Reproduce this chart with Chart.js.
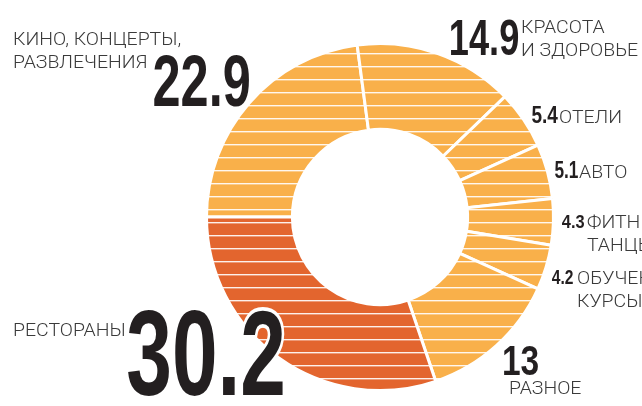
<!DOCTYPE html>
<html>
<head>
<meta charset="utf-8">
<script src="https://cdn.jsdelivr.net/npm/chart.js@4.4.1/dist/chart.umd.min.js"></script>
<style>
  html, body { margin: 0; padding: 0; background: #fff; }
  #c { display: block; }
</style>
</head>
<body>
<canvas id="c" width="642" height="406"></canvas>
<script>
const categories = [
  'КИНО, КОНЦЕРТЫ,\nРАЗВЛЕЧЕНИЯ',
  'КРАСОТА\nИ ЗДОРОВЬЕ',
  'ОТЕЛИ',
  'АВТО',
  'ФИТНЕС,\nТАНЦЫ',
  'ОБУЧЕНИЕ,\nКУРСЫ',
  'РАЗНОЕ',
  'РЕСТОРАНЫ'
];
const shares = [22.9, 14.9, 5.4, 5.1, 4.3, 4.2, 13, 30.2];
const highlight = [false, false, false, false, false, false, false, true];

// where the numbers and captions sit (x, baseline, digit height, digit width)
const numBoxes = [
  { x: 154, y: 106, h: 51, w: 95 },
  { x: 451, y: 55, h: 35, w: 67 },
  { x: 532, y: 123, h: 17, w: 26 },
  { x: 555, y: 178, h: 16.5, w: 23 },
  { x: 562, y: 228, h: 13.5, w: 22 },
  { x: 552, y: 284, h: 14, w: 21 },
  { x: 504, y: 375, h: 30, w: 34 },
  { x: 128, y: 395, h: 85, w: 155 }
];
const textSpots = [
  [{ x: 13, y: 45 }, { x: 13, y: 68 }],
  [{ x: 521, y: 33 }, { x: 521, y: 56 }],
  [{ x: 559, y: 123 }],
  [{ x: 579, y: 178 }],
  [{ x: 587, y: 228 }, { x: 587, y: 251 }],
  [{ x: 577, y: 284 }, { x: 577, y: 307 }],
  [{ x: 509, y: 394 }],
  [{ x: 13, y: 336 }]
];

function stripes(color) {
  const t = document.createElement('canvas');
  t.width = 8;
  t.height = 13;
  const g = t.getContext('2d');
  g.fillStyle = color;
  g.fillRect(0, 0, 8, 13);
  g.fillStyle = 'rgba(255,255,255,0.9)';
  g.fillRect(0, 1, 8, 1);
  g.fillStyle = 'rgba(255,255,255,0.35)';
  g.fillRect(0, 2, 8, 1);
  return g.createPattern(t, 'repeat');
}

const light = stripes('#f9b04a');
const dark = stripes('#e3652e');

const labelsPlugin = {
  id: 'labels',
  afterDraw(chart) {
    const ctx = chart.ctx;
    ctx.save();
    shares.forEach((v, i) => {
      const b = numBoxes[i];
      const txt = String(v);
      ctx.font = 'bold 100px "Liberation Sans Narrow", "Liberation Sans", sans-serif';
      const m = ctx.measureText(txt);
      const mw = m.actualBoundingBoxLeft + m.actualBoundingBoxRight;
      const sx = b.w / mw;
      const sy = b.h / m.actualBoundingBoxAscent;
      ctx.save();
      ctx.translate(b.x + m.actualBoundingBoxLeft * sx, b.y);
      ctx.scale(sx, sy);
      ctx.textBaseline = 'alphabetic';
      if (highlight[i]) {
        ctx.strokeStyle = '#fff';
        ctx.lineWidth = 5 / sx;
        ctx.lineJoin = 'round';
        ctx.strokeText(txt, 0, 0);
      }
      ctx.fillStyle = '#231f20';
      ctx.fillText(txt, 0, 0);
      ctx.restore();

      const lines = categories[i].split('\n');
      ctx.font = '300 18px Roboto, "Liberation Sans", sans-serif';
      ctx.fillStyle = '#3a3a3a';
      lines.forEach((ln, k) => {
        const p = textSpots[i][k];
        ctx.save();
        ctx.translate(p.x, p.y);
        ctx.scale(1.08, 1);
        ctx.fillText(ln, 0, 0);
        ctx.restore();
      });
    });
    ctx.restore();
  }
};

new Chart(document.getElementById('c'), {
  type: 'doughnut',
  data: {
    labels: categories,
    datasets: [{
      data: shares,
      backgroundColor: highlight.map(h => h ? dark : light),
      borderColor: '#ffffff',
      borderWidth: 3
    }]
  },
  options: {
    responsive: false,
    animation: false,
    rotation: -90,
    cutout: '50.5%',
    layout: {
      padding: { left: 205, right: 87, top: 42, bottom: 14 }
    },
    plugins: {
      legend: { display: false },
      tooltip: { enabled: false }
    }
  },
  plugins: [labelsPlugin]
});
</script>
</body>
</html>
